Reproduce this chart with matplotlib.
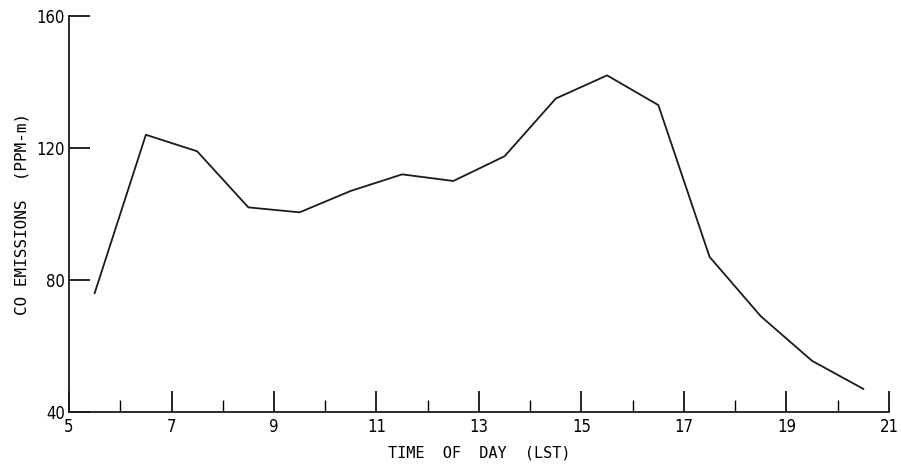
import matplotlib
matplotlib.use("Agg")
import matplotlib.pyplot as plt
from matplotlib.ticker import MultipleLocator

# hourly CO emissions
hours = [5.5, 6.5, 7.5, 8.5, 9.5, 10.5, 11.5, 12.5, 13.5, 14.5, 15.5, 16.5, 17.5, 18.5, 19.5, 20.5]
co_emissions = [76, 124, 119, 102, 100.5, 107, 112, 110, 117.5, 135, 142, 133, 87, 69, 55.5, 47]

x_ticks = [5, 7, 9, 11, 13, 15, 17, 19, 21]
y_ticks = [40, 80, 120, 160]

plt.rcParams['font.family'] = ['DejaVu Sans']
plt.rcParams['font.stretch'] = 'condensed'

fig = plt.figure(figsize=(9.01, 4.67), dpi=100)
ax = fig.add_axes([0.0766, 0.1178, 0.91, 0.848])

ax.plot(hours, co_emissions, color='#1a1a1a', linewidth=1.3)

ax.set_xlim(5, 21)
ax.set_ylim(40, 160)
ax.set_xticks(x_ticks)
ax.set_yticks(y_ticks)
ax.xaxis.set_minor_locator(MultipleLocator(1))

for side in ['top', 'right']:
	ax.spines[side].set_visible(False)
for side in ['left', 'bottom']:
	ax.spines[side].set_linewidth(1.3)
	ax.spines[side].set_color('#1a1a1a')

ax.tick_params(axis='x', which='major', direction='in', length=15, width=1.2, pad=4, labelsize=12)
ax.tick_params(axis='x', which='minor', direction='in', length=9, width=1.0)
ax.tick_params(axis='y', which='major', direction='in', length=15, width=1.2, pad=3, labelsize=12)

# typewriter-like axis titles
ax.set_xlabel('TIME  OF  DAY  (LST)', family='DejaVu Sans Mono', fontsize=11, labelpad=7.5)
ax.set_ylabel('CO EMISSIONS  (PPM-m)', family='DejaVu Sans Mono', fontsize=11.5, labelpad=5)

fig.savefig('out.png', dpi=100)
